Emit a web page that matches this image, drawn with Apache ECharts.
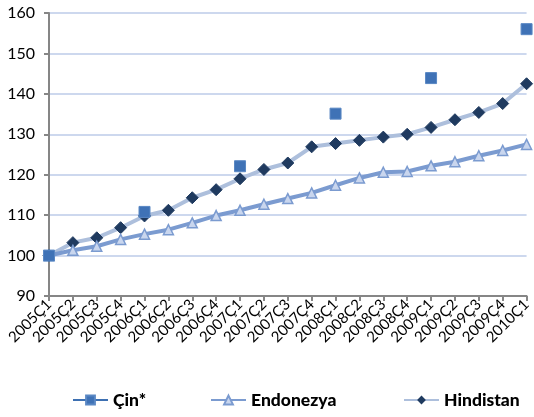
<!DOCTYPE html>
<html><head><meta charset="utf-8">
<script src="https://cdn.jsdelivr.net/npm/echarts@6/dist/echarts.min.js"></script>
<style>html,body{margin:0;padding:0;background:#fff}#c{width:534px;height:417px}</style>
</head><body><div id="c"></div>
<script>
const categories = ['2005Ç1','2005Ç2','2005Ç3','2005Ç4','2006Ç1','2006Ç2','2006Ç3','2006Ç4','2007Ç1','2007Ç2','2007Ç3','2007Ç4','2008Ç1','2008Ç2','2008Ç3','2008Ç4','2009Ç1','2009Ç2','2009Ç3','2009Ç4','2010Ç1'];
const cin = [100,null,null,null,110.8,null,null,null,122.1,null,null,null,135.1,null,null,null,143.9,null,null,null,156.0];
const endonezya = [100,101.3,102.3,104.0,105.3,106.4,108.1,109.9,111.2,112.7,114.1,115.5,117.4,119.2,120.6,120.8,122.2,123.2,124.7,126.0,127.5];
const hindistan = [100,103.2,104.4,106.9,109.8,111.2,114.3,116.3,119.0,121.3,122.9,126.9,127.7,128.5,129.3,130.0,131.7,133.6,135.4,137.6,142.5];
const yTicks = {min: 90, max: 160, interval: 10};

const font = 'Lato, "Open Sans", sans-serif';
const chart = echarts.init(document.getElementById('c'), null, {renderer: 'canvas'});
const legendBase = {
  bottom: 3, itemWidth: 35, itemHeight: 11, itemGap: 4,
  textStyle: {fontFamily: font, fontWeight: 900, fontSize: 17.5, color: '#000'}
};
chart.setOption({
  animation: false,
  grid: {left: 49, right: 1, top: 13, bottom: 121, containLabel: false},
  legend: [
    Object.assign({}, legendBase, {left: 67, data: ['Çin*']}),
    Object.assign({}, legendBase, {left: 205, data: ['Endonezya']}),
    Object.assign({}, legendBase, {left: 398, data: ['Hindistan']})
  ],
  xAxis: {
    type: 'category', data: categories, boundaryGap: false,
    axisLine: {lineStyle: {color: '#868686', width: 2}},
    axisTick: {show: true, length: 5, lineStyle: {color: '#868686', width: 2}},
    axisLabel: {rotate: 45, fontFamily: font, fontSize: 15, color: '#000', margin: 6, interval: 0},
    splitLine: {show: false}
  },
  yAxis: {
    type: 'value', min: yTicks.min, max: yTicks.max, interval: yTicks.interval,
    axisLine: {show: true, lineStyle: {color: '#868686', width: 2}},
    axisTick: {show: true, length: 5, lineStyle: {color: '#868686', width: 2}},
    axisLabel: {fontFamily: font, fontSize: 16, color: '#000', margin: 14},
    splitLine: {lineStyle: {color: '#bccbe8', width: 1.5}}
  },
  series: [
    {
      name: 'Hindistan', type: 'line', data: hindistan, z: 2,
      symbol: 'diamond', symbolSize: 12, showAllSymbol: true,
      lineStyle: {color: '#adbfdc', width: 4},
      itemStyle: {color: '#1f3a5f', borderColor: '#1f3a5f'}
    },
    {
      name: 'Endonezya', type: 'line', data: endonezya, z: 3,
      symbol: 'triangle', symbolSize: 10, showAllSymbol: true,
      lineStyle: {color: '#7b9bd0', width: 4},
      itemStyle: {color: '#c9d6ee', borderColor: '#7b9bd0', borderWidth: 1.5}
    },
    {
      name: 'Çin*', type: 'line', data: cin, z: 4,
      symbol: 'rect', symbolSize: 11, showAllSymbol: true, connectNulls: false,
      lineStyle: {color: '#3d70b2', width: 4},
      itemStyle: {color: '#3f72b6', borderColor: '#5a88c4', borderWidth: 1}
    }
  ]
});
</script></body></html>
